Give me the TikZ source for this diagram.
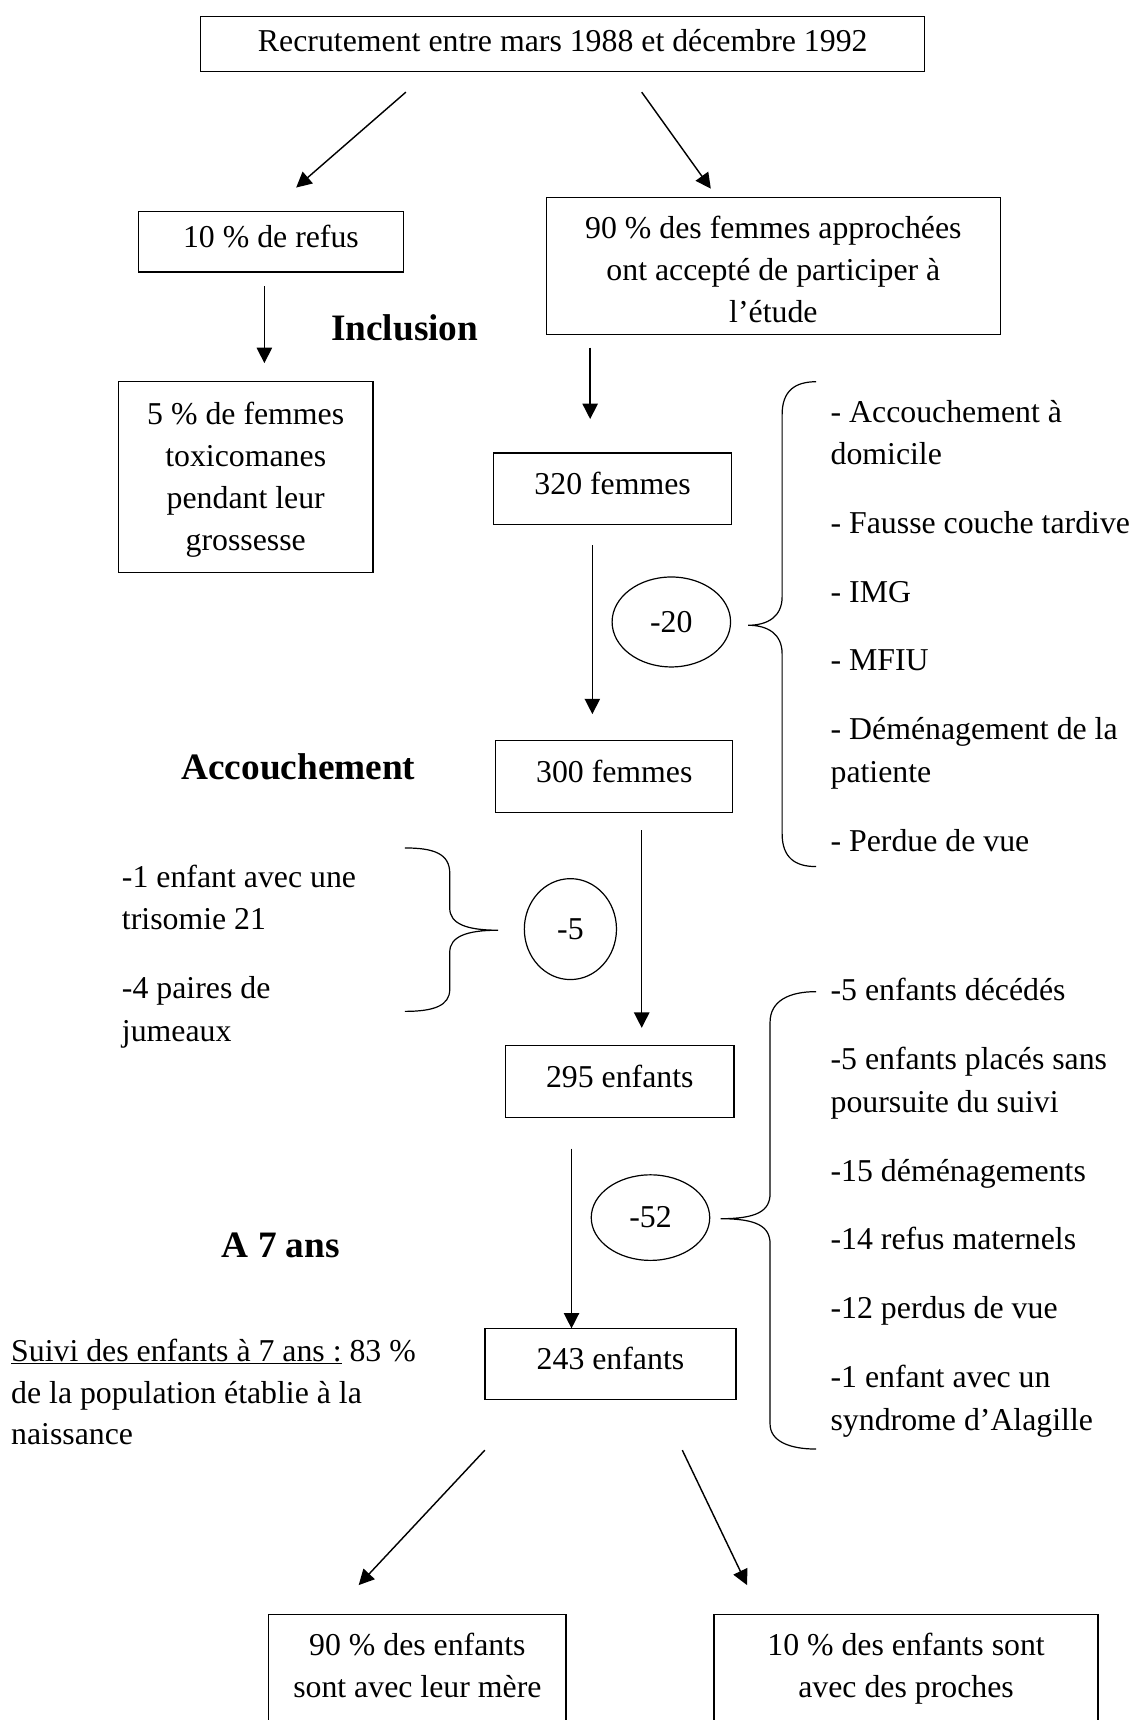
\documentclass[tikz,border=0pt]{standalone}
\usepackage{fontspec}
\setmainfont{Liberation Serif}
\usetikzlibrary{arrows.meta,shapes.geometric}
\tikzset{
  x=1pt, y=-1pt,
  txtfont/.style={font=\fontsize{29}{38.5}\selectfont},
  box/.style={draw, line width=1.2pt, txtfont, align=center, inner sep=0pt},
  onebox/.style={box, text height=20pt, text depth=10pt},
  arr/.style={line width=1.3pt, -{Triangle[length=14pt,width=14pt]}},
  ell/.style={draw, ellipse, line width=1.1pt, inner sep=0pt, txtfont},
  lbl/.style={font=\fontsize{34}{40}\selectfont\bfseries, inner sep=0pt},
  ltxt/.style={txtfont, anchor=base west, inner sep=0pt},
  brace/.style={line width=1.1pt},
}
\begin{document}
\begin{tikzpicture}
\useasboundingbox (0,0) rectangle (1041,1568);
\fill[white] (0,0) rectangle (1041,1568);

% boxes
\node[box, text height=20pt, text depth=6pt, minimum width=660pt, minimum height=50pt] (top) at (513,40) {Recrutement entre mars 1988 et décembre 1992};
\node[onebox, minimum width=242pt, minimum height=55pt] (refus) at (247,220.5) {10 \% de refus};
\node[box, minimum width=414pt, minimum height=125pt] (accept) at (705,242.5) {\rule{0pt}{27pt}90 \% des femmes approchées\\ont accepté de participer à\\l’étude};
\node[box, minimum width=232pt, minimum height=174pt] (tox) at (224,435) {\rule{0pt}{25pt}5 \% de femmes\\toxicomanes\\pendant leur\\grossesse};
\node[onebox, minimum width=217pt, minimum height=65pt] (f320) at (558.5,445.5) {320 femmes};
\node[onebox, minimum width=216pt, minimum height=66pt] (f300) at (560,708) {300 femmes};
\node[onebox, minimum width=208pt, minimum height=66pt] (e295) at (565,986) {295 enfants};
\node[onebox, minimum width=229pt, minimum height=65pt] (e243) at (556.5,1243.5) {243 enfants};
\node[box, anchor=north, minimum width=271pt, inner ysep=17pt, text depth=150pt] (mere) at (380.5,1471) {90 \% des enfants\\sont avec leur mère};
\node[box, anchor=north, minimum width=350pt, inner ysep=17pt, text depth=150pt] (proches) at (826,1471) {10 \% des enfants sont\\avec des proches};

% bold labels
\node[lbl] (incl) at (369,299) {Inclusion};
\node[lbl] (acc) at (272,699) {Accouchement};
\node[lbl] (sept) at (256,1135) {A 7 ans};

% ellipses
\node[ell, minimum width=108pt, minimum height=82pt] (m20) at (612,567) {-20};
\node[ell, minimum width=84pt, minimum height=92pt] (m5) at (520,847) {-5};
\node[ell, minimum width=108pt, minimum height=78pt] (m52) at (593,1110) {-52};

% arrow end points
\coordinate (a1s) at (370,84);  \coordinate (a1e) at (270,171);
\coordinate (a2s) at (585,84);  \coordinate (a2e) at (648,172);
\coordinate (a3s) at (241,261); \coordinate (a3e) at (241,331);
\coordinate (a4s) at (538,317); \coordinate (a4e) at (538,382);
\coordinate (a5s) at (540,497); \coordinate (a5e) at (540,651);
\coordinate (a6s) at (585,757); \coordinate (a6e) at (585,937);
\coordinate (a7s) at (521,1047); \coordinate (a7e) at (521,1211);
\coordinate (a8s) at (442,1322); \coordinate (a8e) at (327,1445);
\coordinate (a9s) at (622,1322); \coordinate (a9e) at (681,1445);

\draw[arr] (a1s) -- (a1e);
\draw[arr] (a2s) -- (a2e);
\draw[arr] (a3s) -- (a3e);
\draw[arr] (a4s) -- (a4e);
\draw[arr] (a5s) -- (a5e);
\draw[arr] (a6s) -- (a6e);
\draw[arr] (a7s) -- (a7e);
\draw[arr] (a8s) -- (a8e);
\draw[arr] (a9s) -- (a9e);

% braces
\draw[brace] (744,348) .. controls (725,348) and (713,356) .. (713,378) -- (713,544)
  .. controls (713,562) and (700,570) .. (682,570)
  .. controls (700,570) and (713,578) .. (713,596) -- (713,760)
  .. controls (713,782) and (725,790) .. (744,790);
\draw[brace] (744,904) .. controls (720,904) and (702,912) .. (702,932) -- (702,1088)
  .. controls (702,1104) and (690,1111) .. (657,1111)
  .. controls (690,1111) and (702,1118) .. (702,1134) -- (702,1298)
  .. controls (702,1314) and (720,1321) .. (744,1321);
\draw[brace] (369,773) .. controls (395,773) and (410,778) .. (410,796) -- (410,828)
  .. controls (410,842) and (425,848) .. (454,848)
  .. controls (425,848) and (410,854) .. (410,868) -- (410,902)
  .. controls (410,917) and (395,922) .. (369,922);

% right list 1
\node[ltxt] (r1a) at (757,385) {- Accouchement à};
\node[ltxt] (r1b) at (757,423) {domicile};
\node[ltxt] (r1c) at (757,486) {- Fausse couche tardive};
\node[ltxt] (r1d) at (757,549) {- IMG};
\node[ltxt] (r1e) at (757,611) {- MFIU};
\node[ltxt] (r1f) at (757,674) {- Déménagement de la};
\node[ltxt] (r1g) at (757,713) {patiente};
\node[ltxt] (r1h) at (757,776) {- Perdue de vue};

% left list
\node[ltxt] (l1a) at (111,809) {-1 enfant avec une};
\node[ltxt] (l1b) at (111,847) {trisomie 21};
\node[ltxt] (l1c) at (111,910) {-4 paires de};
\node[ltxt] (l1d) at (111,949) {jumeaux};

% right list 2
\node[ltxt] (r2a) at (757,912) {-5 enfants décédés};
\node[ltxt] (r2b) at (757,975) {-5 enfants placés sans};
\node[ltxt] (r2c) at (757,1014) {poursuite du suivi};
\node[ltxt] (r2d) at (757,1077) {-15 déménagements};
\node[ltxt] (r2e) at (757,1139) {-14 refus maternels};
\node[ltxt] (r2f) at (757,1202) {-12 perdus de vue};
\node[ltxt] (r2g) at (757,1265) {-1 enfant avec un};
\node[ltxt] (r2h) at (757,1304) {syndrome d’Alagille};

% follow-up text
\node[ltxt] (s1) at (10,1241) {\underline{Suivi des enfants à 7 ans :} 83 \%};
\node[ltxt] (s2) at (10,1279) {de la population établie à la};
\node[ltxt] (s3) at (10,1317) {naissance};
\end{tikzpicture}
\end{document}
